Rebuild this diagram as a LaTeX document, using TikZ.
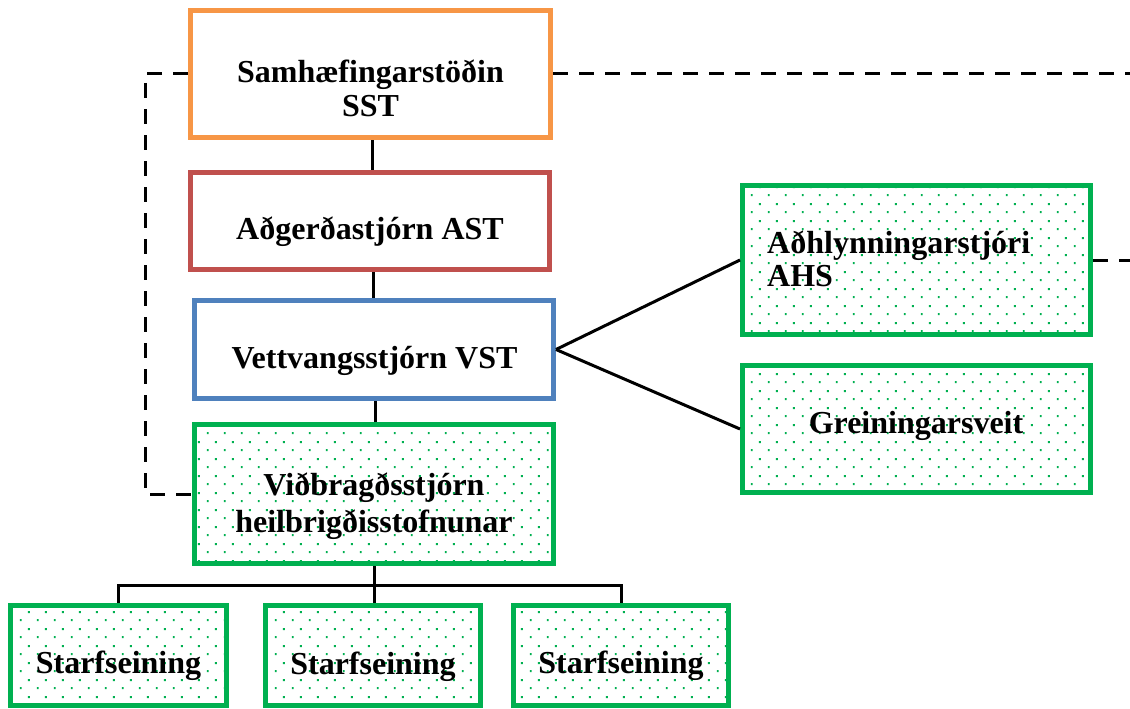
\documentclass[tikz,border=0pt]{standalone}
\usepackage{fontspec}
\setmainfont{Liberation Serif}
\usetikzlibrary{patterns}
\pgfdeclarepatternformonly{greendots}{\pgfpointorigin}{\pgfpoint{17pt}{17pt}}{\pgfpoint{17pt}{17pt}}{%
  \pgfpathrectangle{\pgfpoint{3pt}{3pt}}{\pgfpoint{2pt}{2pt}}%
  \pgfpathrectangle{\pgfpoint{11.5pt}{11.5pt}}{\pgfpoint{2pt}{2pt}}%
  \pgfusepath{fill}}
\definecolor{cOrange}{HTML}{F79646}
\definecolor{cRed}{HTML}{C0504D}
\definecolor{cBlue}{HTML}{4F81BD}
\definecolor{cGreen}{HTML}{00B050}
\begin{document}
\begin{tikzpicture}[x=1pt,y=1pt,
  box/.style={draw,line width=5pt,inner sep=0pt,fill=white},
  gbox/.style={box,draw=cGreen,postaction={pattern=greendots,pattern color=cGreen}},
  txt/.style={font=\fontsize{32}{34}\selectfont\bfseries,inner sep=0pt,anchor=base},
  ltxt/.style={txt,anchor=base west},
  conn/.style={line width=3pt},
  dashconn/.style={line width=3pt,dash pattern=on 15pt off 11pt}]
\useasboundingbox (0,0) rectangle (1130,-709);
% boxes
\node[box,draw=cOrange,minimum width=360pt,minimum height=127pt] (sst) at (370.5,-74) {};
\node[box,draw=cRed,minimum width=359pt,minimum height=97pt] (ast) at (370,-221) {};
\node[box,draw=cBlue,minimum width=359pt,minimum height=98pt] (vst) at (374,-349.5) {};
\node[gbox,minimum width=359pt,minimum height=139pt] (vid) at (374,-494) {};
\node[gbox,minimum width=348pt,minimum height=149pt] (ahs) at (916.5,-260) {};
\node[gbox,minimum width=348pt,minimum height=127pt] (gre) at (916.5,-429) {};
\node[gbox,minimum width=216pt,minimum height=100pt] (s1) at (118.5,-655.5) {};
\node[gbox,minimum width=215pt,minimum height=100pt] (s2) at (373,-655.5) {};
\node[gbox,minimum width=215pt,minimum height=100pt] (s3) at (621,-655.5) {};
% texts
\node[txt] (tsst1) at (370.5,-83) {Samhæfingarstöðin};
\node[txt] (tsst2) at (370.5,-117) {SST};
\node[txt] (tast) at (370,-239) {Aðgerðastjórn AST};
\node[txt] (tvst) at (374.5,-368) {Vettvangsstjórn VST};
\node[txt] (tvid1) at (374,-495) {Viðbragðsstjórn};
\node[txt] (tvid2) at (374,-532) {heilbrigðisstofnunar};
\node[ltxt] (tahs1) at (767,-253) {Aðhlynningarstjóri};
\node[ltxt] (tahs2) at (767,-286) {AHS};
\node[txt] (tgre) at (916,-433) {Greiningarsveit};
\node[txt] (ts1) at (118.5,-673) {Starfseining};
\node[txt] (ts2) at (373,-674) {Starfseining};
\node[txt] (ts3) at (621,-673) {Starfseining};
% solid connectors
\draw[conn] (sst.south -| 372,0) -- (ast.north -| 372,0);
\draw[conn] (ast.south -| 373,0) -- (vst.north -| 373,0);
\draw[conn] (vst.south -| 375,0) -- (vid.north -| 375,0);
\draw[conn] (vst.east) -- (ahs.west);
\draw[conn] (vst.east) -- (gre.west);
\coordinate (j) at (374,-585);
\draw[conn] (vid.south -| j) -- (j);
\draw[conn] (s1.north) |- (j) -| (s3.north);
\draw[conn] (j) -- (s2.north -| j);
% dashed connectors
\coordinate (dl) at (145,-74);
\coordinate (r1) at (1130,-74);
\coordinate (r2) at (1130,-260);
\draw[dashconn] (sst.west) -- (dl) |- (vid.west);
\draw[dashconn] (sst.east) -- (r1);
\draw[dashconn] (ahs.east) -- (r2);
\end{tikzpicture}
\end{document}
